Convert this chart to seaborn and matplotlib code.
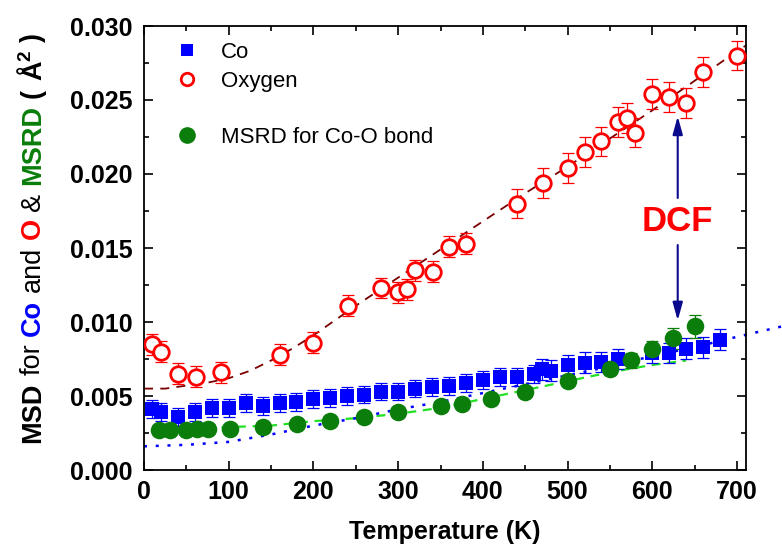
import numpy as np
import pandas as pd
import seaborn as sns
import matplotlib
matplotlib.use("Agg")
import matplotlib.pyplot as plt
from matplotlib.lines import Line2D
from matplotlib.ticker import MultipleLocator, FormatStrFormatter

# ---------------- data ----------------
T_co = [10, 20, 40, 60, 80, 100, 120, 140, 160, 180, 200, 220, 240, 260, 280, 300,
        320, 340, 360, 380, 400, 420, 440, 460, 470, 480, 500, 520, 540, 560, 600,
        620, 640, 660, 680]
msd_co = [0.0041, 0.0039, 0.00356, 0.0039, 0.0042, 0.0042, 0.00455, 0.0043, 0.00455,
          0.0046, 0.0048, 0.00485, 0.0050, 0.0051, 0.0053, 0.0053, 0.0055, 0.0056,
          0.0057, 0.0059, 0.0061, 0.0063, 0.0063, 0.0065, 0.0068, 0.0067, 0.0071,
          0.00725, 0.0073, 0.0075, 0.0079, 0.0079, 0.0082, 0.0083, 0.0088]
err_co = [0.0006] * 24 + [0.0007] * 11

T_o = [9, 20, 40, 61, 91, 161, 200, 241, 280, 300, 310, 320, 341, 360, 380, 440,
       471, 500, 520, 540, 560, 570, 580, 600, 620, 640, 660, 700]
msd_o = [0.0085, 0.0080, 0.0065, 0.0063, 0.0066, 0.0078, 0.0086, 0.0111, 0.0123,
         0.0120, 0.0122, 0.0135, 0.0134, 0.0151, 0.0153, 0.0180, 0.0194, 0.0204,
         0.0215, 0.0222, 0.0235, 0.0238, 0.0228, 0.0254, 0.0252, 0.0248, 0.0269,
         0.0280]
err_o = [0.0007] * 15 + [0.001] * 13

T_msrd = [18, 31, 50, 62, 75, 101, 141, 181, 220, 260, 300, 350, 375, 410, 450,
          500, 550, 575, 600, 625, 650]
msrd = [0.0027, 0.0027, 0.0027, 0.00275, 0.00275, 0.0028, 0.0029, 0.0031, 0.0033,
        0.00356, 0.0039, 0.0043, 0.00446, 0.0048, 0.0053, 0.0060, 0.0068, 0.0074,
        0.0082, 0.0089, 0.0097]
err_msrd = [0.0003] * 16 + [0.0004, 0.0005, 0.0005, 0.0007, 0.0008]

# fitted curves
T_fit_o = [0, 25, 50, 75, 100, 125, 150, 175, 200, 250, 300, 350, 400, 450, 500,
           550, 600, 650, 700, 711]
fit_o = [0.0055, 0.0055, 0.0057, 0.0059, 0.0062, 0.0067, 0.0074, 0.0082, 0.0091,
         0.0111, 0.0130, 0.0149, 0.0168, 0.0187, 0.0205, 0.0224, 0.0243, 0.0263,
         0.0283, 0.0287]
T_fit_co = [0, 50, 100, 150, 200, 250, 300, 350, 400, 450, 500, 550, 600, 650, 700,
            753]
fit_co = [0.0016, 0.0017, 0.0019, 0.0024, 0.0030, 0.0035, 0.0041, 0.0046, 0.0052,
          0.0058, 0.0064, 0.0070, 0.0077, 0.0083, 0.0090, 0.0097]
T_fit_msrd = [18, 50, 100, 150, 200, 250, 300, 350, 400, 450, 500, 550, 600, 640]
fit_msrd = [0.0028, 0.0028, 0.0029, 0.0030, 0.0033, 0.0035, 0.0038, 0.0042, 0.0048,
            0.0054, 0.0060, 0.0066, 0.0071, 0.0074]

x_ticks = [0, 100, 200, 300, 400, 500, 600, 700]
y_ticks = [0.000, 0.005, 0.010, 0.015, 0.020, 0.025, 0.030]

# ---------------- style ----------------
sns.set_theme(style="ticks")
plt.rcParams["font.family"] = ["Liberation Sans", "DejaVu Sans"]
plt.rcParams["mathtext.fontset"] = "custom"
plt.rcParams["mathtext.rm"] = "Liberation Sans"
plt.rcParams["mathtext.bf"] = "Liberation Sans:bold"
plt.rcParams["mathtext.it"] = "Liberation Sans:italic"
for k in ["text.color", "axes.labelcolor", "xtick.color", "ytick.color",
          "axes.edgecolor"]:
    plt.rcParams[k] = "black"

BLUE = "#0000FF"
RED = "#FF0000"
GREEN = "#0A7D0A"
LIME = "#22E022"
MAROON = "#7A0000"

W, H = 782, 549
fig = plt.figure(figsize=(W / 100, H / 100), dpi=100)
ax = fig.add_axes([144 / W, 1 - 470 / H, (746 - 144) / W, (470 - 26) / H])

# fit lines
sns.lineplot(x=T_fit_o, y=fit_o, color=MAROON, linestyle=(0, (5, 4)), linewidth=1.3,
             ax=ax, sort=False, estimator=None, zorder=2)
sns.lineplot(x=T_fit_msrd, y=fit_msrd, color=LIME, linestyle=(0, (4, 3)), linewidth=1.6,
             ax=ax, sort=False, estimator=None, zorder=2)
sns.lineplot(x=T_fit_co, y=fit_co, color=BLUE, linestyle=(0, (1.2, 3.5)), linewidth=1.8,
             ax=ax, sort=False, estimator=None, zorder=2)
ax.lines[-1].set_clip_on(False)

# error bars
ax.errorbar(T_o, msd_o, yerr=err_o, fmt="none", ecolor=RED, elinewidth=0.9,
            capsize=4, capthick=0.9, zorder=3)
ax.errorbar(T_co, msd_co, yerr=err_co, fmt="none", ecolor=BLUE, elinewidth=0.9,
            capsize=4, capthick=0.9, zorder=3)
ax.errorbar(T_msrd, msrd, yerr=err_msrd, fmt="none", ecolor=GREEN, elinewidth=0.9,
            capsize=4, capthick=0.9, zorder=3)

# markers
sns.scatterplot(x=T_o, y=msd_o, marker="o", s=125, facecolor="white", edgecolor=RED,
                linewidth=2.0, ax=ax, zorder=4)
sns.scatterplot(x=T_co, y=msd_co, marker="s", s=100, color=BLUE, edgecolor=BLUE,
                linewidth=0, ax=ax, zorder=5)
sns.scatterplot(x=T_msrd, y=msrd, marker="o", s=160, color=GREEN, edgecolor=GREEN,
                linewidth=0, ax=ax, zorder=6)

# DCF annotation
ARROW = "#0A0A8C"
aprops = dict(arrowstyle="-|>,head_length=0.9,head_width=0.25", color=ARROW, lw=1.5,
              mutation_scale=12, shrinkA=0, shrinkB=0)
ax.annotate("", xy=(630, 0.0239), xytext=(630, 0.01838), arrowprops=aprops)
ax.annotate("", xy=(630, 0.0101), xytext=(630, 0.0152), arrowprops=aprops)
ax.text(629, 0.01676, "DCF", color=RED, fontsize=25, fontweight="bold",
        ha="center", va="center")

# axes
ax.set_xlim(0, 710.6)
ax.set_ylim(0, 0.030)
ax.set_xticks(x_ticks)
ax.set_yticks(y_ticks)
ax.xaxis.set_minor_locator(MultipleLocator(50))
ax.yaxis.set_minor_locator(MultipleLocator(0.0025))
ax.yaxis.set_major_formatter(FormatStrFormatter("%.3f"))
ax.tick_params(which="both", direction="in", top=True, right=True, width=1.2,
               color="black", labelcolor="black")
ax.tick_params(which="major", length=6.5, labelsize=18)
ax.tick_params(which="minor", length=3.5)
ax.tick_params(axis="x", pad=7)
ax.tick_params(axis="y", pad=8)
for lab in ax.get_xticklabels() + ax.get_yticklabels():
    lab.set_fontweight("bold")
for sp in ax.spines.values():
    sp.set_linewidth(1.3)
    sp.set_color("black")
ax.set_xlabel("Temperature (K)", fontsize=18, fontweight="bold", labelpad=12,
              color="black")
ax.set_ylabel("")

# legend
handles = [
    Line2D([], [], marker="s", ls="none", color=BLUE, ms=8.6, mew=0),
    Line2D([], [], marker="o", ls="none", mfc="white", mec=RED, mew=2.0, ms=9),
    Line2D([], [], ls="none", marker=None),
    Line2D([], [], marker="o", ls="none", color=GREEN, ms=12, mew=0),
]
labels = ["Co", "Oxygen", " ", "MSRD for Co-O bond"]
leg = ax.legend(handles, labels, loc="upper left", frameon=False, fontsize=16,
                handlelength=1.5, handletextpad=0.78, borderpad=0.4,
                borderaxespad=0.6, labelspacing=0.33,
                bbox_to_anchor=(4 / 602, 1 + 6 / 444))
for t in leg.get_texts():
    t.set_color("black")

# multi-coloured y label
fig.canvas.draw()
r = fig.canvas.get_renderer()
FS = 19.5
pieces = [("MSD", "black", "bold"), ("for", "black", "normal"), ("Co", BLUE, "bold"),
          ("and", "black", "normal"), ("O", RED, "bold"), ("&", "black", "normal"),
          ("MSRD", GREEN, "bold"), ("(", "black", "bold"),
          ("Å$^{\\mathbf{2}}$", "black", "bold"), (")", "black", "bold")]
gaps = [1, 1, 1, 1, 1, 1, 1, 1, 1]


def measure(s, weight):
    t = fig.text(0, 0, s, rotation=90, fontsize=FS, fontweight=weight)
    h = t.get_window_extent(r).height
    t.remove()
    return h


sp = measure("x x", "bold") - measure("xx", "bold")
lens = [measure(s, w) for s, _, w in pieces]
total = sum(lens) + sp * sum(gaps)
xc = 33
yc = H - 238
y = yc - total / 2
for i, ((s, c, w), L) in enumerate(zip(pieces, lens)):
    fig.text(xc / W, y / H, s, rotation=90, fontsize=FS, fontweight=w, color=c,
             ha="center", va="bottom")
    y += L
    if i < len(gaps):
        y += sp * gaps[i]

fig.savefig("out.png", dpi=100)
